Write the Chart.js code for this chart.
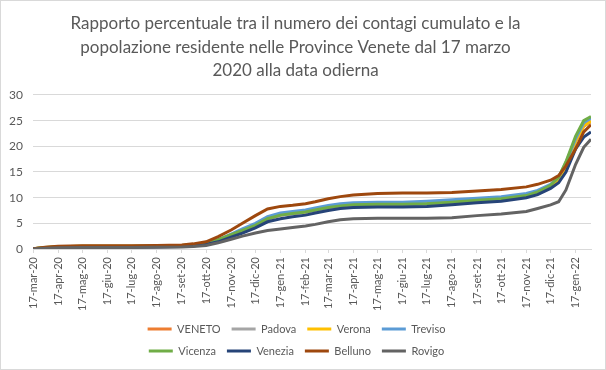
<!DOCTYPE html>
<html><head><meta charset="utf-8">
<script src="https://cdn.jsdelivr.net/npm/chart.js@4.4.1/dist/chart.umd.min.js"></script>
<style>html,body{margin:0;padding:0;background:#fff}#wrap{width:606px;height:370px;position:relative}</style>
</head><body><div id="wrap"><canvas id="c"></canvas></div>
<script>
const titleLines = [
  'Rapporto percentuale tra il numero dei contagi cumulato e la',
  'popolazione residente nelle Province Venete dal 17 marzo',
  '2020 alla data odierna'
];
const dates = ['2020-03-17','2020-04-01','2020-04-17','2020-05-17','2020-06-17','2020-07-17','2020-08-17','2020-09-17',
  '2020-10-01','2020-10-17','2020-11-01','2020-11-17','2020-12-01','2020-12-17','2021-01-01','2021-01-17',
  '2021-02-01','2021-02-17','2021-03-01','2021-03-17','2021-04-01','2021-04-17','2021-05-17','2021-06-17',
  '2021-07-17','2021-08-17','2021-09-17','2021-10-17','2021-11-17','2021-12-01','2021-12-17','2021-12-27',
  '2022-01-05','2022-01-17','2022-01-27','2022-02-05'];
const seriesNames = ['VENETO','Padova','Verona','Treviso','Vicenza','Venezia','Belluno','Rovigo'];
const VENETO  = [0.04,0.25,0.38,0.47,0.48,0.48,0.52,0.62,0.75,1.0,1.6,2.6,3.5,4.6,5.9,6.6,6.9,7.2,7.6,8.1,8.4,8.6,8.7,8.7,8.8,9.1,9.5,9.8,10.4,11.0,12.2,13.5,16.0,21.0,23.9,24.8];
const Padova  = [0.04,0.22,0.35,0.44,0.45,0.45,0.5,0.6,0.72,0.98,1.6,2.6,3.5,4.6,5.9,6.6,6.9,7.2,7.6,8.0,8.3,8.5,8.6,8.6,8.7,9.0,9.4,9.7,10.3,10.9,12.1,13.4,16.0,21.0,24.0,24.9];
const Verona  = [0.05,0.3,0.45,0.55,0.55,0.55,0.6,0.7,0.85,1.1,1.7,2.7,3.6,4.7,6.0,6.7,7.0,7.3,7.7,8.2,8.5,8.7,8.8,8.8,8.9,9.2,9.6,9.9,10.5,11.1,12.3,13.6,16.2,21.0,24.0,24.9];
const Treviso = [0.05,0.25,0.4,0.5,0.5,0.5,0.55,0.65,0.8,1.1,1.8,2.9,3.9,5.0,6.3,7.0,7.3,7.6,8.0,8.5,8.8,9.0,9.1,9.1,9.3,9.6,9.9,10.2,10.8,11.4,12.6,14.0,16.8,21.5,24.6,25.5];
const Vicenza = [0.05,0.3,0.45,0.55,0.55,0.55,0.6,0.7,0.85,1.2,1.8,2.8,3.6,4.6,5.9,6.6,6.9,7.2,7.6,8.1,8.4,8.6,8.7,8.7,8.8,9.1,9.5,9.8,10.4,11.1,12.4,14.0,17.0,22.0,25.0,25.8];
const Venezia = [0.03,0.15,0.3,0.35,0.35,0.35,0.4,0.5,0.6,0.9,1.4,2.3,3.1,4.1,5.3,5.9,6.3,6.6,7.0,7.5,7.9,8.1,8.2,8.2,8.3,8.6,9.0,9.3,10.0,10.6,11.8,12.9,15.0,19.5,21.8,22.8];
const Belluno = [0.05,0.35,0.55,0.65,0.65,0.65,0.7,0.8,1.0,1.4,2.4,3.7,5.0,6.5,7.8,8.3,8.5,8.8,9.2,9.8,10.2,10.5,10.8,10.9,10.9,11.0,11.3,11.6,12.1,12.6,13.4,14.3,16.2,19.5,22.8,24.2];
const Rovigo  = [0.02,0.15,0.25,0.3,0.3,0.3,0.35,0.4,0.5,0.7,1.2,1.9,2.5,3.1,3.6,3.9,4.2,4.5,4.8,5.3,5.7,5.9,6.0,6.0,6.0,6.1,6.5,6.8,7.3,7.9,8.6,9.2,11.5,16.5,19.8,21.4];
const tickDates = ['2020-03-17','2020-04-17','2020-05-17','2020-06-17','2020-07-17','2020-08-17','2020-09-17','2020-10-17',
  '2020-11-17','2020-12-17','2021-01-17','2021-02-17','2021-03-17','2021-04-17','2021-05-17','2021-06-17',
  '2021-07-17','2021-08-17','2021-09-17','2021-10-17','2021-11-17','2021-12-17','2022-01-17'];
const tickLabels = ['17-mar-20','17-apr-20','17-mag-20','17-giu-20','17-lug-20','17-ago-20','17-set-20','17-ott-20',
  '17-nov-20','17-dic-20','17-gen-21','17-feb-21','17-mar-21','17-apr-21','17-mag-21','17-giu-21',
  '17-lug-21','17-ago-21','17-set-21','17-ott-21','17-nov-21','17-dic-21','17-gen-22'];
const yTicks = [0,5,10,15,20,25,30];

const seriesValues = [VENETO, Padova, Verona, Treviso, Vicenza, Venezia, Belluno, Rovigo];
const colors = ['#ED7D31','#A5A5A5','#FFC000','#5B9BD5','#70AD47','#264478','#9E480E','#636363'];

function dayOf(s){ const [y,m,d]=s.split('-').map(Number); return (Date.UTC(y,m-1,d)-Date.UTC(2020,2,17))/86400000; }
const xs = dates.map(dayOf);
const tickDays = tickDates.map(dayOf);
const TXT = '#595959', GRID = '#D9D9D9';
const LEG_W = 380, LEG_CENTER = 302;
Chart.defaults.font.family = 'Lato, "Open Sans", sans-serif';
Chart.defaults.color = TXT;

const frame = {
  id: 'frame',
  beforeDraw(c){ const x=c.ctx; x.save(); x.fillStyle='#fff'; x.fillRect(0,0,c.width,c.height); x.restore(); },
  afterDraw(c){ const x=c.ctx; x.save(); x.strokeStyle=GRID; x.lineWidth=1; x.strokeRect(0.5,0.5,c.width-1,c.height-1); x.restore(); },
  beforeLayout(c){
    const lg = c.legend;
    if (lg && !lg._rowPatch){
      const orig = lg.update;
      lg.update = function(mw, mh, mg){ return orig.call(this, Math.min(mw, LEG_W), mh, mg); };
      lg._rowPatch = true;
    }
  },
  afterLayout(c){
    const lg = c.legend;
    if (lg){
      lg.left = LEG_CENTER - 5.5 - LEG_W/2;
      lg.right = lg.left + LEG_W;
      lg.width = LEG_W;
    }
  }
};

new Chart(document.getElementById('c'), {
  type: 'line',
  data: {
    datasets: seriesNames.map((n,i)=>({
      label: n,
      data: seriesValues[i].map((v,k)=>({x: xs[k], y: v})),
      borderColor: colors[i], backgroundColor: colors[i],
      borderWidth: 3, pointRadius: 0, tension: 0, fill: false,
      order: seriesNames.length - 1 - i
    }))
  },
  options: {
    responsive: true, maintainAspectRatio: false, animation: false,
    layout: { padding: { left: 0, right: 15, top: 0, bottom: 3.5 } },
    plugins: {
      tooltip: { enabled: false },
      title: { display: true, text: titleLines, color: TXT, font: { size: 17, weight: 'normal', lineHeight: 1.38 }, padding: { top: 12, bottom: 12.6 } },
      legend: { position: 'bottom', labels: { usePointStyle: true, pointStyle: 'line', pointStyleWidth: 24, padding: 11, color: TXT, font: { size: 11 },
        sort: (a,b)=>a.datasetIndex-b.datasetIndex } }
    },
    scales: {
      x: { type: 'linear', min: 0, max: xs[xs.length-1],
        afterBuildTicks: s => { s.ticks = tickDays.map(v=>({value:v})); },
        afterFit: s => { s.height = 63.5; },
        ticks: { autoSkip: false, minRotation: 90, maxRotation: 90, padding: 4, font: { size: 11 }, color: TXT,
          callback: (v,i) => tickLabels[i] },
        grid: { drawOnChartArea: false, drawTicks: true, tickLength: 4, color: GRID },
        border: { color: GRID, width: 1 } },
      y: { min: 0, max: 30,
        afterBuildTicks: s => { s.ticks = yTicks.map(v=>({value:v})); },
        afterFit: s => { s.width = 33; },
        ticks: { padding: 10, font: { size: 12 }, color: TXT },
        grid: { color: GRID, drawTicks: false },
        border: { display: false } }
    }
  },
  plugins: [frame]
});
</script></body></html>
